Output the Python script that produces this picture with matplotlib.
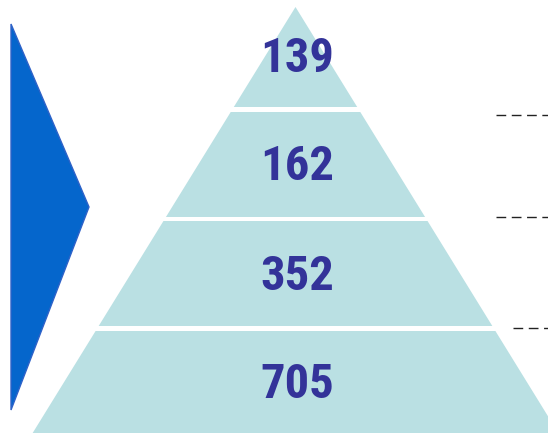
import matplotlib.pyplot as plt
from matplotlib.patches import Polygon

# 各段の件数（上から）
counts = [139, 162, 352, 705]

# 段の上下端と数字のベースライン（ピクセル座標）
tiers = [(7, 107), (112, 217), (221, 326), (331, 433)]
baselines = [72, 180, 290, 398]

apex_x, apex_y = 295.5, 7
slope = 0.617  # 斜辺の傾き dx/dy

fig = plt.figure(figsize=(5.48, 4.33), dpi=100)
ax = fig.add_axes([0, 0, 1, 1])
ax.set_xlim(0, 548)
ax.set_ylim(433, 0)
ax.axis('off')

# 左の矢印
ax.add_patch(Polygon([(11, 24), (89, 207), (11, 410)], closed=True,
                     facecolor='#0566CC', edgecolor='#2E62C8', lw=1.0))

fam = ['Roboto Condensed', 'PT Sans Narrow', 'DejaVu Sans']

# ピラミッドの各段
for (top, bot), base, n in zip(tiers, baselines, counts):
    h_top = (top - apex_y) * slope
    h_bot = (bot - apex_y) * slope
    pts = [(apex_x - h_top, top), (apex_x + h_top, top),
           (apex_x + h_bot, bot), (apex_x - h_bot, bot)]
    ax.add_patch(Polygon(pts, closed=True, facecolor='#BAE0E3', edgecolor='none'))
    ax.text(apex_x + 2, base, str(n), ha='center', va='baseline',
            fontsize=35, fontweight='bold', color='#333399', family=fam)

# 右側の破線
for y, x0 in [(115, 496), (217, 496), (328, 513)]:
    ax.plot([x0, 548], [y, y], color='#222222', lw=1.0, ls=(0, (7, 4)))

fig.savefig('out.png', dpi=100)
